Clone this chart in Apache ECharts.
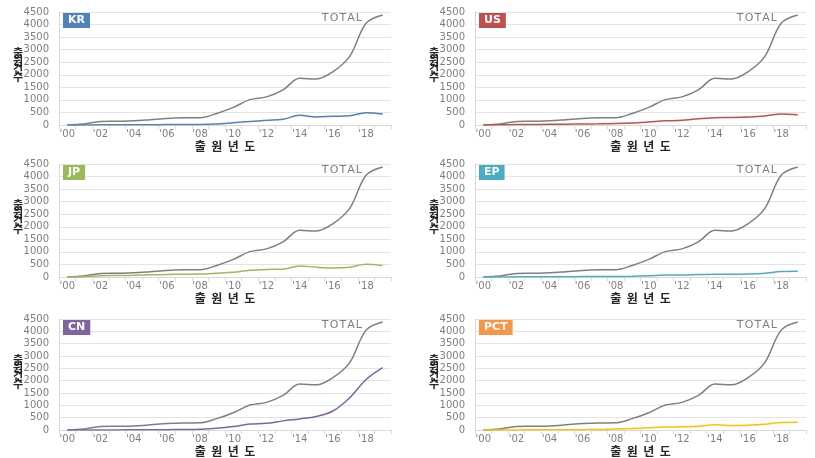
<!DOCTYPE html>
<html>
<head>
<meta charset="utf-8">
<script src="https://cdn.jsdelivr.net/npm/echarts@6/dist/echarts.min.js"></script>
<style>
html,body{margin:0;padding:0;background:#fff;}
#chart{width:815px;height:458px;}
</style>
</head>
<body>
<div id="chart"></div>
<script>
// ---- data ----
const years = ["'00","'01","'02","'03","'04","'05","'06","'07","'08","'09","'10","'11","'12","'13","'14","'15","'16","'17","'18","'19"];
const yTicks = [0, 500, 1000, 1500, 2000, 2500, 3000, 3500, 4000, 4500];
const total = [5, 40, 140, 150, 165, 210, 260, 285, 290, 460, 700, 1010, 1120, 1400, 1860, 1830, 2120, 2720, 4050, 4380];
const kr  = [0, 0, 5, 5, 8, 10, 15, 18, 20, 40, 90, 140, 185, 230, 385, 320, 345, 365, 490, 440];
const us  = [0, 5, 15, 20, 25, 30, 40, 45, 55, 80, 120, 165, 185, 250, 290, 300, 320, 360, 440, 410];
const jp  = [0, 10, 50, 60, 70, 85, 100, 110, 120, 150, 185, 265, 300, 310, 440, 390, 360, 390, 505, 460];
const ep  = [0, 2, 5, 8, 10, 12, 15, 18, 20, 30, 50, 80, 80, 95, 110, 110, 120, 150, 220, 230];
const cn  = [0, 0, 2, 5, 8, 10, 15, 20, 35, 70, 140, 240, 270, 370, 450, 545, 770, 1300, 2050, 2530];
const pct = [0, 0, 5, 8, 10, 12, 15, 18, 40, 60, 90, 120, 130, 150, 210, 180, 195, 235, 300, 310];
const panelNames = ['KR', 'US', 'JP', 'EP', 'CN', 'PCT'];
const panelData = [kr, us, jp, ep, cn, pct];
const panelColors = ['#4F81BD', '#C0504D', '#9BBB59', '#4BACC6', '#8064A2', '#F79646'];
const lineColors  = ['#4F81BD', '#C0504D', '#9BBB59', '#4BACC6', '#8064A2', '#FFC000'];
const totalName = 'T\u200AO\u200AT\u200AA\u200AL';
const xName = '출  원  년  도';
const yName = '출\n원\n건\n수';

// ---- layout ----
const colLeft = [59, 475];
const colWidth = [332, 331];
const rowTop = [12, 164, 319];
const plotH = 113;

const grids = [], xAxes = [], yAxes = [], series = [], graphics = [];
for (let i = 0; i < 6; i++) {
  const c = i % 2, r = Math.floor(i / 2);
  const left = colLeft[c], top = rowTop[r], w = colWidth[c];
  grids.push({left: left, top: top, width: w, height: plotH});
  xAxes.push({
    type: 'category', gridIndex: i, data: years, boundaryGap: true,
    axisLine: {lineStyle: {color: '#d9d9d9', width: 1}},
    axisTick: {show: true, interval: 0, length: 4, lineStyle: {color: '#d9d9d9'}},
    axisLabel: {interval: 1, color: '#7f7f7f', fontSize: 10, fontFamily: 'DejaVu Sans', margin: 4},
    name: xName, nameLocation: 'middle', nameGap: 15,
    nameTextStyle: {fontSize: 12, fontWeight: 'bold', color: '#262626', fontFamily: 'Noto Sans CJK KR'}
  });
  yAxes.push({
    type: 'value', gridIndex: i, min: yTicks[0], max: yTicks[yTicks.length - 1], interval: 500,
    axisLine: {show: true, lineStyle: {color: '#d9d9d9'}},
    axisTick: {show: false},
    splitLine: {lineStyle: {color: '#e3e3e3', width: 1}},
    axisLabel: {color: '#7f7f7f', fontSize: 10, fontFamily: 'DejaVu Sans', margin: 10,
                formatter: function (v) { return String(v); }}
  });
  series.push({
    type: 'line', xAxisIndex: i, yAxisIndex: i, data: total, smooth: 0.35,
    showSymbol: false, lineStyle: {color: '#7f7f7f', width: 1.5}, itemStyle: {color: '#7f7f7f'}, z: 3
  });
  series.push({
    type: 'line', xAxisIndex: i, yAxisIndex: i, data: panelData[i], smooth: 0.35,
    showSymbol: false, lineStyle: {color: lineColors[i], width: 1.5}, itemStyle: {color: lineColors[i]}, z: 4
  });
  graphics.push({
    type: 'text', left: left + 4, top: top + 1, z: 10,
    style: {text: panelNames[i], fill: '#fff', font: 'bold 11px "DejaVu Sans"',
            backgroundColor: panelColors[i], padding: [2, 5, 2, 5]}
  });
  graphics.push({
    type: 'text', right: 815 - (left + w - 29), top: top + 1, z: 10,
    style: {text: totalName, fill: '#7f7f7f', font: '11px "DejaVu Sans"'}
  });
  graphics.push({
    type: 'text', left: left - 46, top: top + 35, z: 10,
    style: {text: yName, fill: '#262626', font: 'bold 11px "Noto Sans CJK KR"', lineHeight: 8, align: 'center'}
  });
}

const chart = echarts.init(document.getElementById('chart'));
chart.setOption({
  animation: false,
  grid: grids, xAxis: xAxes, yAxis: yAxes, series: series, graphic: graphics
});
</script>
</body>
</html>
